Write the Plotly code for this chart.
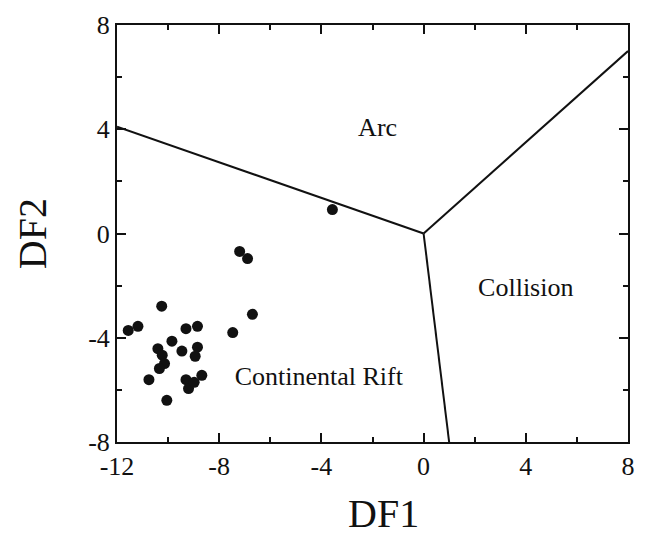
import plotly.graph_objects as go

# Sample data (DF1, DF2)
df1 = [-10.25, -11.56, -11.18, -9.30, -8.85, -9.85, -10.40, -10.23, -10.14, -10.34,
       -9.46, -8.85, -8.94, -10.75, -9.30, -8.68, -9.20, -8.98, -10.05, -7.47,
       -6.70, -7.20, -6.89, -3.57]
df2 = [-2.79, -3.72, -3.56, -3.65, -3.56, -4.13, -4.42, -4.67, -4.99, -5.18,
       -4.51, -4.36, -4.71, -5.61, -5.61, -5.44, -5.95, -5.71, -6.40, -3.80,
       -3.10, -0.69, -0.96, 0.92]

# Field boundaries
bx_left = [-12, 0]
by_left = [4.1, 0]
bx_right = [0, 8]
by_right = [0, 7.0]
bx_down = [0, 1.0]
by_down = [0, -8]

# Field labels
field_names = ["Arc", "Collision", "Continental Rift"]
field_x = [-1.8, 4.0, -4.1]
field_y = [4.0, -2.15, -5.55]

x_ticks = [-12, -8, -4, 0, 4, 8]
x_tick_text = ["-12", "-8", "-4", "0", "4", "8"]
y_ticks = [-8, -4, 0, 4, 8]
y_tick_text = ["-8", "-4", "0", "4", "8"]

FONT = "Liberation Serif"

fig = go.Figure()
for bx, by in [(bx_left, by_left), (bx_right, by_right), (bx_down, by_down)]:
    fig.add_trace(go.Scatter(x=bx, y=by, mode="lines",
                             line=dict(color="#111111", width=2),
                             showlegend=False, hoverinfo="skip"))
fig.add_trace(go.Scatter(x=df1, y=df2, mode="markers",
                         marker=dict(color="#111111", size=11),
                         showlegend=False))
fig.add_trace(go.Scatter(x=field_x, y=field_y, mode="text", text=field_names,
                         textfont=dict(family=FONT, size=26, color="#111111"),
                         showlegend=False, hoverinfo="skip"))

axis_common = dict(
    showgrid=False, zeroline=False, showline=True, linecolor="#111111", linewidth=2,
    mirror="ticks", ticks="inside", ticklen=9, tickwidth=1.5, tickcolor="#111111",
    tickfont=dict(family=FONT, size=26, color="#111111"),
    minor=dict(ticks="inside", ticklen=5, tickwidth=1.5, tickcolor="#111111", dtick=2),
)
fig.update_xaxes(range=[-12, 8], tickvals=x_ticks, ticktext=x_tick_text, **axis_common)
fig.update_yaxes(range=[-8, 8], tickvals=y_ticks, ticktext=y_tick_text, **axis_common)

title_font = dict(family=FONT, size=40, color="#111111")
fig.add_annotation(text="DF1", xref="paper", yref="paper", x=0.521, y=-0.172,
                   xanchor="center", yanchor="middle", showarrow=False, font=title_font)
fig.add_annotation(text="DF2", xref="paper", yref="paper", x=-0.165, y=0.5,
                   xanchor="center", yanchor="middle", textangle=-90,
                   showarrow=False, font=title_font)

fig.update_layout(
    width=646, height=536,
    margin=dict(l=117, r=11, t=24, b=94),
    plot_bgcolor="white", paper_bgcolor="white",
)
fig.write_html("out.html")
